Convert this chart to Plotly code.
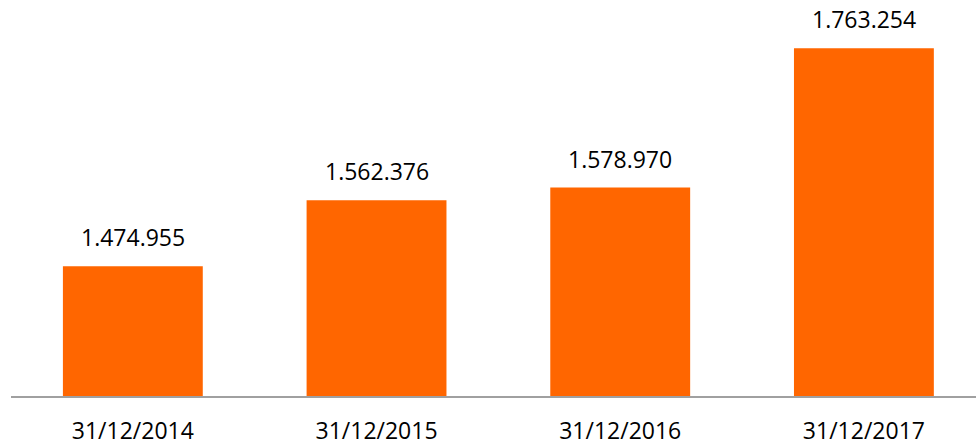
import plotly.graph_objects as go

categories = ["31/12/2014", "31/12/2015", "31/12/2016", "31/12/2017"]
values = [1474955, 1562376, 1578970, 1763254]
labels = [f"{v:,}".replace(",", ".") for v in values]

fig = go.Figure()
fig.add_trace(go.Bar(
    x=categories, y=values, width=0.574,
    marker=dict(color="#FF6600", line=dict(width=0)),
    hoverinfo="skip",
))
for c, v, t in zip(categories, values, labels):
    fig.add_annotation(x=c, y=v, text=t, showarrow=False, yanchor="bottom",
                       yshift=11, font=dict(family="Open Sans", size=23, color="#000000"))

fig.update_layout(
    width=976, height=446,
    margin=dict(l=11, r=0, t=18, b=48),
    paper_bgcolor="white", plot_bgcolor="white",
    showlegend=False,
    xaxis=dict(type="category", range=[-0.5, 3.46], showline=True, linecolor="#A0A0A0",
               linewidth=1.5, ticks="", showgrid=False, zeroline=False,
               tickfont=dict(family="Open Sans", size=23, color="#000000"),
               ticklabelstandoff=14),
    yaxis=dict(range=[1303300, 1803300], visible=False, showgrid=False, zeroline=False),
)
fig.write_html("out.html", config={"displayModeBar": False},
               post_script="document.body.style.margin='0';document.body.style.overflow='hidden';")
